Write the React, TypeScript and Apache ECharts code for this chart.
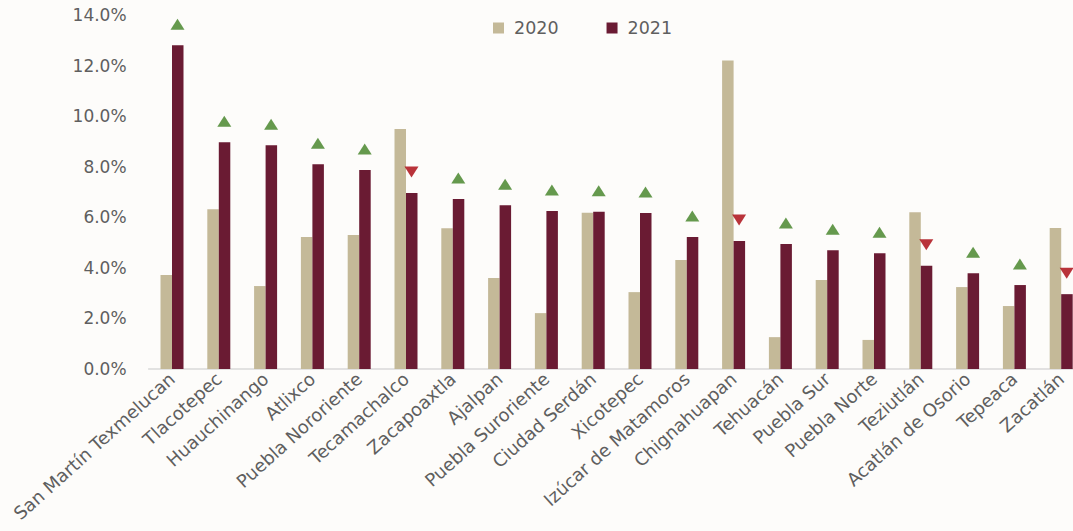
import React, { useEffect, useRef } from "react";
import * as echarts from "echarts";

const categories = [
  "San Martín Texmelucan",
  "Tlacotepec",
  "Huauchinango",
  "Atlixco",
  "Puebla Nororiente",
  "Tecamachalco",
  "Zacapoaxtla",
  "Ajalpan",
  "Puebla Suroriente",
  "Ciudad Serdán",
  "Xicotepec",
  "Izúcar de Matamoros",
  "Chignahuapan",
  "Tehuacán",
  "Puebla Sur",
  "Puebla Norte",
  "Teziutlán",
  "Acatlán de Osorio",
  "Tepeaca",
  "Zacatlán",
];

const values2020 = [3.72, 6.32, 3.28, 5.22, 5.3, 9.49, 5.57, 3.6, 2.21, 6.18, 3.04, 4.31, 12.2, 1.26, 3.52, 1.15, 6.2, 3.24, 2.49, 5.58];
const values2021 = [12.8, 8.97, 8.85, 8.1, 7.87, 6.96, 6.72, 6.48, 6.25, 6.22, 6.17, 5.22, 5.06, 4.94, 4.7, 4.58, 4.08, 3.79, 3.32, 2.96];

const seriesNames = ["2020", "2021"];
const yTicks = { min: 0, max: 14, interval: 2 };

const COLOR_2020 = "#c4b998";
const COLOR_2021 = "#6a1b33";
const UP_COLOR = "#3f8022";
const DOWN_COLOR = "#a8000a";
const TEXT = "#5f5f5f";
const FONT = "DejaVu Sans";

export default function App() {
  const ref = useRef<HTMLDivElement>(null);

  useEffect(() => {
    if (!ref.current) return;
    const chart = echarts.init(ref.current, undefined, { renderer: "svg" });

    const markerData = values2021.map((v, i) => {
      const up = v >= values2020[i];
      return {
        value: v,
        symbolRotate: up ? 0 : 180,
        itemStyle: { color: up ? UP_COLOR : DOWN_COLOR },
      };
    });

    chart.setOption({
      animation: false,
      backgroundColor: "#fdfcfa",
      legend: {
        data: seriesNames,
        left: 493,
        top: 19,
        padding: 0,
        itemWidth: 11,
        itemHeight: 11,
        itemGap: 48,
        icon: "rect",
        textStyle: { color: TEXT, fontSize: 17.5, fontFamily: FONT, padding: [0, 0, 0, 5] },
      },
      grid: { left: 148.6, right: 5.4, top: 15, bottom: 162, containLabel: false },
      xAxis: {
        type: "category",
        data: categories,
        axisLine: { show: true, lineStyle: { color: "#d9d9d9", width: 1.5 } },
        axisTick: { show: false },
        axisLabel: {
          interval: 0,
          rotate: 42,
          color: TEXT,
          fontSize: 18,
          fontFamily: FONT,
          margin: 7,
        },
      },
      yAxis: {
        type: "value",
        min: yTicks.min,
        max: yTicks.max,
        interval: yTicks.interval,
        splitLine: { show: false },
        axisLine: { show: false },
        axisTick: { show: false },
        axisLabel: {
          color: TEXT,
          fontSize: 17,
          fontFamily: FONT,
          margin: 22,
          formatter: (v: number) => v.toFixed(1) + "%",
        },
      },
      series: [
        {
          name: seriesNames[0],
          type: "bar",
          data: values2020,
          barWidth: 11.5,
          barGap: "0%",
          itemStyle: { color: COLOR_2020 },
        },
        {
          name: seriesNames[1],
          type: "bar",
          data: values2021,
          barWidth: 11.5,
          barGap: "0%",
          itemStyle: { color: COLOR_2021 },
        },
        {
          name: "cambio",
          type: "scatter",
          data: markerData,
          symbol: "triangle",
          symbolSize: [14, 11],
          symbolOffset: [5.5, -21],
          z: 5,
        },
      ],
    });

    return () => chart.dispose();
  }, []);

  return (
    <div style={{ position: "fixed", left: 0, top: 0, width: 1073, height: 531, overflow: "hidden", background: "#fdfcfa" }}>
      <div ref={ref} style={{ width: 1090, height: 531 }} />
    </div>
  );
}
